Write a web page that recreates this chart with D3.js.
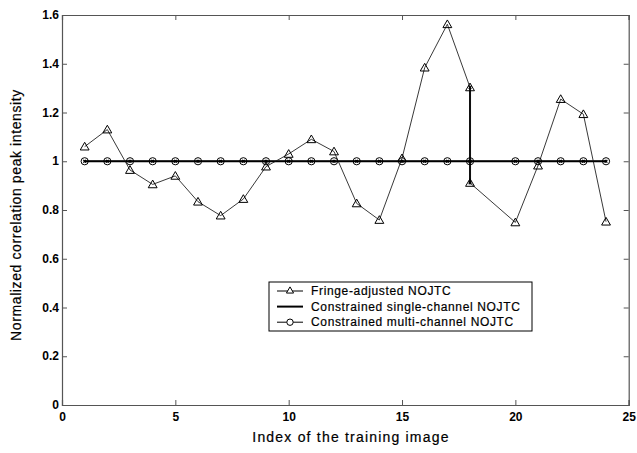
<!DOCTYPE html>
<html>
<head>
<meta charset="utf-8">
<script src="https://cdn.jsdelivr.net/npm/d3@7"></script>
<style>
  body { margin: 0; background: #fff; }
  text { font-family: "Liberation Sans", Arial, sans-serif; fill: #000; }
</style>
</head>
<body>
<div id="chart"></div>
<script>
"use strict";

// fringe-adjusted: image 18 has two values, there is no image 19
const fringeX = [1, 2, 3, 4, 5, 6, 7, 8, 9, 10, 11, 12, 13, 14, 15, 16, 17, 18, 18, 20, 21, 22, 23, 24];
const fringeY = [1.06, 1.13, 0.964, 0.905, 0.94, 0.834, 0.777, 0.845, 0.978, 1.03, 1.09, 1.04,
  0.827, 0.759, 1.012, 1.384, 1.562, 1.303, 0.911, 0.749, 0.982, 1.255, 1.193, 0.752];

const singleX = [1, 2, 3, 4, 5, 6, 7, 8, 9, 10, 11, 12, 13, 14, 15, 16, 17, 18, 18, 18, 18, 20, 21, 22, 23, 24];
const singleY = [1, 1, 1, 1, 1, 1, 1, 1, 1, 1, 1, 1, 1, 1, 1, 1, 1, 1, 1.303, 0.911, 1, 1, 1, 1, 1, 1];

const multiX = [1, 2, 3, 4, 5, 6, 7, 8, 9, 10, 11, 12, 13, 14, 15, 16, 17, 18, 20, 21, 22, 23, 24];
const multiY = [1, 1, 1, 1, 1, 1, 1, 1, 1, 1, 1, 1, 1, 1, 1, 1, 1, 1, 1, 1, 1, 1, 1];

const xTicks = [0, 5, 10, 15, 20, 25];
const yTicks = [0, 0.2, 0.4, 0.6, 0.8, 1, 1.2, 1.4, 1.6];
const legendNames = ["Fringe-adjusted NOJTC", "Constrained single-channel NOJTC", "Constrained multi-channel NOJTC"];

const W = 637, H = 453;
const m = { left: 62, top: 15, right: 8.3, bottom: 48 };
const iw = W - m.left - m.right;
const ih = H - m.top - m.bottom;

const svg = d3.select("#chart").append("svg").attr("width", W).attr("height", H);
const g = svg.append("g").attr("transform", `translate(${m.left},${m.top})`);

const x = d3.scaleLinear().domain([0, 25]).range([0, iw]);
const y = d3.scaleLinear().domain([0, 1.6]).range([ih, 0]);

const fmtY = (d) => (d === 0 || d === 1 ? d3.format("d")(d) : d3.format(".1f")(d));

// axes, ticks point inward
const xAxis = g.append("g").attr("transform", `translate(0,${ih})`)
  .call(d3.axisBottom(x).tickValues(xTicks).tickSize(-5).tickPadding(9).tickFormat(d3.format("d")));
const xTop = g.append("g").call(d3.axisTop(x).tickValues(xTicks).tickSize(-5).tickFormat(""));
const yAxis = g.append("g").call(d3.axisLeft(y).tickValues(yTicks).tickSize(-5).tickPadding(3).tickFormat(fmtY));
const yRight = g.append("g").attr("transform", `translate(${iw},0)`)
  .call(d3.axisRight(y).tickValues(yTicks).tickSize(-5).tickFormat(""));

[xAxis, xTop, yAxis, yRight].forEach((a) => {
  a.select(".domain").attr("stroke", "#555").attr("stroke-width", 1.2);
  a.selectAll(".tick line").attr("stroke", "#555");
  a.selectAll("text").attr("font-size", 12).attr("font-weight", "bold").attr("fill", "#000");
});
xAxis.selectAll(".tick text").attr("dy", "0.6em");
yAxis.selectAll(".tick text").attr("dy", "0.3em");

// lines
const lineOf = (xs, ys) => d3.line().x((d, i) => x(xs[i])).y((d) => y(d))(ys);

g.append("path").attr("d", lineOf(singleX, singleY))
  .attr("fill", "none").attr("stroke", "#000").attr("stroke-width", 2);

g.append("path").attr("d", lineOf(fringeX, fringeY))
  .attr("fill", "none").attr("stroke", "#222").attr("stroke-width", 0.9);

g.append("path").attr("d", lineOf(multiX, multiY))
  .attr("fill", "none").attr("stroke", "#000").attr("stroke-width", 1);

// markers
const tri = d3.symbol().type(d3.symbolTriangle).size(34);
const triSmall = d3.symbol().type(d3.symbolTriangle).size(22);

g.selectAll(".cross").data(singleY).enter().append("path")
  .attr("class", "cross")
  .attr("d", d3.symbol().type(d3.symbolCross).size(8))
  .attr("transform", (d, i) => `translate(${x(singleX[i])},${y(d)}) rotate(45)`)
  .attr("fill", "#000");

g.selectAll(".circ").data(multiY).enter().append("circle")
  .attr("class", "circ")
  .attr("cx", (d, i) => x(multiX[i]))
  .attr("cy", (d) => y(d))
  .attr("r", 3.6)
  .attr("fill", "none")
  .attr("stroke", "#000")
  .attr("stroke-width", 1);

g.selectAll(".tri").data(fringeY).enter().append("path")
  .attr("class", "tri")
  .attr("d", tri)
  .attr("transform", (d, i) => `translate(${x(fringeX[i])},${y(d) + 0.8})`)
  .attr("fill", "none")
  .attr("stroke", "#000")
  .attr("stroke-width", 1);

// legend
const lg = svg.append("g").attr("transform", "translate(269,282)");
lg.append("rect").attr("width", 263).attr("height", 49)
  .attr("fill", "#fff").attr("stroke", "#000").attr("stroke-width", 1);

legendNames.forEach((name, i) => {
  const ry = 9 + i * 15.6;
  lg.append("line").attr("x1", 8).attr("x2", 34).attr("y1", ry).attr("y2", ry)
    .attr("stroke", "#000").attr("stroke-width", i === 1 ? 2 : 1);
  if (i === 0) {
    lg.append("path").attr("d", triSmall).attr("transform", `translate(21,${ry})`)
      .attr("fill", "#fff").attr("stroke", "#000");
  } else if (i === 2) {
    lg.append("circle").attr("cx", 21).attr("cy", ry).attr("r", 3.2)
      .attr("fill", "#fff").attr("stroke", "#000");
  }
  lg.append("text").attr("x", 42).attr("y", ry).attr("dy", "0.35em")
    .attr("font-size", 12).attr("letter-spacing", 0.65)
    .attr("stroke", "#000").attr("stroke-width", 0.2).text(name);
});

// axis titles
svg.append("text").attr("x", 351).attr("y", 442)
  .attr("text-anchor", "middle").attr("font-size", 14).attr("letter-spacing", 1.2)
  .attr("stroke", "#000").attr("stroke-width", 0.2)
  .text("Index of the training image");

svg.append("text").attr("transform", "translate(21,215) rotate(-90)")
  .attr("text-anchor", "middle").attr("font-size", 14).attr("letter-spacing", 0.6)
  .attr("stroke", "#000").attr("stroke-width", 0.2)
  .text("Normalized correlation peak intensity");
</script>
</body>
</html>
